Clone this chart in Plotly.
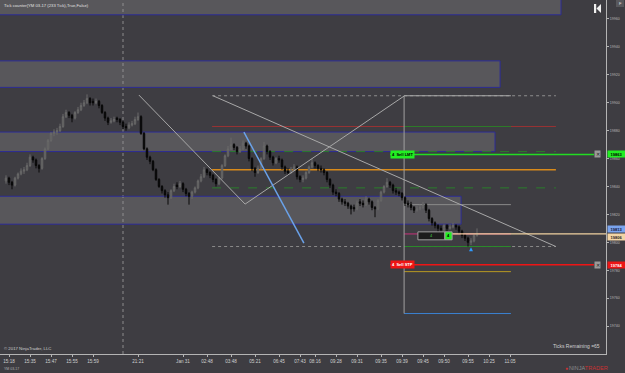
import plotly.graph_objects as go

# ---------------- data ----------------
bars = list(range(158))
opens = [19844,19846,19843,19841,19846,19849,19851,19852,19855,19861,
19859,19855,19853,19860,19867,19873,19878,19879,19880,19883,
19890,19893,19891,19889,19893,19895,19898,19900,19903,19901,
19900,19901,19898,19893,19889,19886,19887,19889,19888,19886,
19883,19882,19884,19885,19888,19890,19878,19867,19861,19858,
19852,19845,19840,19837,19834,19832,19837,19841,19840,19842,
19838,19835,19833,19836,19839,19844,19847,19852,19850,19848,
19845,19842,19846,19855,19862,19867,19870,19868,19865,19867,
19871,19869,19860,19853,19850,19853,19860,19869,19865,19861,
19857,19860,19859,19854,19851,19850,19852,19854,19847,19845,
19846,19850,19854,19857,19855,19853,19852,19850,19845,19841,
19836,19835,19831,19829,19828,19826,19825,19824,19829,19828,
19827,19831,19829,19825,19824,19830,19836,19840,19843,19841,
19837,19836,19835,19832,19828,19827,19825,19823,19824,19825,
19827,19823,19817,19814,19812,19810,19809,19812,19810,19811,
19812,19811,19808,19805,19803,19800,19801,19805]
highs = [19848,19847,19844,19847,19850,19853,19854,19857,19863,19862,
19860,19856,19861,19868,19874,19879,19881,19882,19885,19892,
19895,19894,19892,19894,19897,19900,19902,19906,19904,19903,
19903,19902,19899,19894,19890,19889,19890,19890,19889,19887,
19885,19886,19887,19890,19893,19891,19879,19868,19862,19859,
19853,19846,19841,19838,19836,19838,19842,19843,19844,19843,
19839,19836,19837,19840,19845,19849,19854,19853,19851,19849,
19846,19847,19856,19863,19869,19875,19871,19869,19869,19873,
19872,19870,19861,19854,19855,19861,19872,19870,19866,19862,
19861,19862,19860,19855,19853,19854,19856,19855,19848,19848,
19851,19855,19860,19858,19856,19855,19853,19851,19846,19842,
19838,19836,19832,19831,19829,19827,19827,19830,19831,19830,
19833,19832,19830,19826,19831,19837,19841,19846,19844,19842,
19839,19837,19836,19833,19830,19829,19826,19826,19827,19829,
19828,19824,19818,19815,19813,19812,19813,19813,19813,19814,
19813,19812,19809,19806,19804,19803,19806,19810]
lows = [19842,19841,19838,19840,19845,19848,19849,19851,19854,19857,
19853,19850,19852,19859,19866,19872,19876,19877,19879,19882,
19889,19889,19886,19888,19892,19894,19897,19899,19898,19898,
19899,19896,19892,19887,19884,19885,19886,19886,19884,19881,
19880,19881,19883,19884,19887,19877,19866,19859,19856,19851,
19844,19839,19835,19832,19827,19831,19836,19838,19839,19836,
19833,19827,19831,19835,19838,19843,19846,19848,19846,19843,
19840,19841,19845,19854,19861,19866,19866,19863,19864,19866,
19867,19858,19851,19847,19849,19852,19859,19863,19859,19855,
19856,19857,19852,19849,19848,19849,19851,19845,19843,19843,
19845,19849,19853,19853,19851,19850,19848,19843,19839,19834,
19833,19829,19827,19826,19824,19820,19822,19823,19826,19825,
19826,19827,19823,19818,19823,19829,19835,19839,19839,19835,
19834,19833,19830,19826,19825,19823,19821,19822,19823,19824,
19821,19815,19812,19810,19807,19807,19808,19808,19809,19810,
19809,19806,19803,19801,19797,19798,19800,19804]
closes = [19846,19843,19841,19846,19849,19851,19852,19855,19861,19859,
19855,19853,19860,19867,19873,19878,19879,19880,19883,19890,
19893,19891,19889,19893,19895,19898,19900,19903,19900,19900,
19901,19898,19893,19889,19886,19887,19888,19888,19886,19883,
19882,19884,19885,19888,19890,19878,19867,19861,19858,19852,
19845,19840,19837,19834,19832,19837,19840,19840,19842,19838,
19835,19833,19836,19839,19844,19847,19852,19850,19848,19845,
19842,19846,19855,19862,19867,19870,19868,19865,19867,19871,
19869,19860,19853,19850,19853,19860,19869,19865,19861,19857,
19860,19859,19854,19851,19850,19852,19854,19847,19845,19846,
19850,19854,19857,19855,19853,19852,19850,19845,19841,19836,
19835,19831,19829,19828,19826,19824,19824,19828,19828,19827,
19831,19829,19825,19824,19830,19836,19840,19843,19841,19837,
19836,19835,19832,19828,19827,19825,19823,19824,19825,19827,
19823,19817,19814,19812,19810,19809,19812,19810,19811,19812,
19811,19808,19805,19803,19800,19801,19805,19806]

tick_bars = [1, 8, 15, 22, 29, 44, 59, 67, 75, 83, 91, 98, 103, 110, 117, 125, 132, 139, 146, 154, 161, 168]
tick_text = ["15:18", "15:35", "15:47", "15:55", "15:59", "21:21", "Jan 31", "02:48", "03:48", "05:21",
             "06:45", "07:43", "08:16", "09:28", "09:31", "09:35", "09:39", "09:45", "09:50", "09:55",
             "10:25", "11:05"]
price_ticks = [19740, 19760, 19780, 19800, 19820, 19840, 19860, 19880, 19900, 19920, 19940, 19960]

# supply / demand zones (right end bar, low price, high price)
zone_right = [185, 164.7, 163, 151.7]
zone_low = [19963, 19911, 19865, 19813]
zone_high = [19995, 19930, 19879, 19833]

session_break_bar = 39

# drawing A (horizontal levels between two bars)
a_bars = [68.7, 183.3]
a_levels = [19905, 19883, 19865, 19852, 19839, 19797]
# drawing B
b_bars = [132.7, 168.3]
b_levels = [19905, 19883, 19827, 19806, 19797, 19779, 19749]
# trend lines
v_bars = [44.3, 79.7, 132.7]
v_prices = [19905.5, 19827.4, 19904.8]
diag_bars = [69, 183.3]
diag_prices = [19905, 19797]
blue_bars = [79.3, 99.3]
blue_prices = [19879, 19799.4]

# orders / position
sell_lmt = 19863
sell_stp = 19784
last_price = 19806
zone_price = 19813
qty = 4
order_bars = [128, 196]
pos_bars = [137.3, 146.3, 148.7]
exec_bar = [155]
exec_price = [19796.5]

# ---------------- styles ----------------
BG = "#3e3d42"
FONT = "Liberation Sans"
ZONE_FILL = "rgba(150,150,150,0.30)"
ZONE_LINE = "#2c2c96"
a_styles = [("#8e8e8e", "dot"), ("#9a3333", "solid"), ("#2a7d2a", "dash"),
            ("#d88a1a", "solid"), ("#2a7d2a", "dash"), ("#8a8a8a", "dot")]
b_styles = ["#a8a8a8", "#2a7d2a", "#8a8a8a", "#c8307a", "#2a8a2a", "#b89a22", "#3a80d0"]

fig = go.Figure()

fig.add_trace(go.Candlestick(
    x=bars, open=opens, high=highs, low=lows, close=closes,
    increasing=dict(line=dict(color="#6a6a6a", width=1), fillcolor="#4a4a4a"),
    decreasing=dict(line=dict(color="#080808", width=1), fillcolor="#080808"),
    whiskerwidth=0, showlegend=False, hoverinfo="skip"))

fig.add_trace(go.Scatter(
    x=exec_bar, y=exec_price, mode="markers",
    marker=dict(symbol="arrow-up", size=4, color="#2f9bff", line=dict(width=0)),
    showlegend=False, hoverinfo="skip"))

shapes = []
for r, lo, hi in zip(zone_right, zone_low, zone_high):
    shapes.append(dict(type="rect", xref="x", yref="y", x0=-4, x1=r, y0=lo, y1=hi,
                       fillcolor=ZONE_FILL, line=dict(color=ZONE_LINE, width=1), layer="below"))
shapes.append(dict(type="line", xref="x", yref="paper", x0=session_break_bar, x1=session_break_bar,
                   y0=0, y1=1, line=dict(color="#8c8c8c", width=1, dash="dot"), layer="below"))
for lvl, (c, d) in zip(a_levels, a_styles):
    shapes.append(dict(type="line", xref="x", yref="y", x0=a_bars[0], x1=a_bars[1], y0=lvl, y1=lvl,
                       line=dict(color=c, width=1.4 if c == "#d88a1a" else 1, dash=d), layer="below"))
for lvl, c in zip(b_levels, b_styles):
    shapes.append(dict(type="line", xref="x", yref="y", x0=b_bars[0], x1=b_bars[1], y0=lvl, y1=lvl,
                       line=dict(color=c, width=1), layer="below"))
shapes.append(dict(type="line", xref="x", yref="y", x0=b_bars[0], x1=b_bars[0],
                   y0=b_levels[0], y1=b_levels[-1], line=dict(color="#a0a0a0", width=1), layer="below"))
for i in range(2):
    shapes.append(dict(type="line", xref="x", yref="y", x0=v_bars[i], x1=v_bars[i + 1],
                       y0=v_prices[i], y1=v_prices[i + 1], line=dict(color="#a8a8a8", width=1)))
shapes.append(dict(type="line", xref="x", yref="y", x0=diag_bars[0], x1=diag_bars[1],
                   y0=diag_prices[0], y1=diag_prices[1], line=dict(color="#a8a8a8", width=1)))
shapes.append(dict(type="line", xref="x", yref="y", x0=blue_bars[0], x1=blue_bars[1],
                   y0=blue_prices[0], y1=blue_prices[1], line=dict(color="#6aa2ea", width=1.5)))
shapes.append(dict(type="line", xref="x", yref="y", x0=order_bars[0], x1=order_bars[1],
                   y0=sell_lmt, y1=sell_lmt, line=dict(color="#22dd22", width=1.5)))
shapes.append(dict(type="line", xref="x", yref="y", x0=order_bars[0], x1=order_bars[1],
                   y0=sell_stp, y1=sell_stp, line=dict(color="#ee1515", width=1.5)))
shapes.append(dict(type="line", xref="x", yref="y", x0=pos_bars[2], x1=210,
                   y0=last_price, y1=last_price, line=dict(color="#f0d2a0", width=1.2)))
shapes.append(dict(type="rect", xref="x", yref="y", x0=pos_bars[0], x1=pos_bars[1],
                   y0=last_price - 4.2, y1=last_price + 1.5, fillcolor="#1c1c1c",
                   line=dict(color="#a0a0a0", width=1)))
shapes.append(dict(type="rect", xref="x", yref="y", x0=pos_bars[1], x1=pos_bars[2],
                   y0=last_price - 4.2, y1=last_price + 1.5, fillcolor="#22ee22",
                   line=dict(color="#a0a0a0", width=1)))
W, H = 606.0, 354.0
def px(x):
    return x / W
def py(y):
    return 1 - y / H
shapes.append(dict(type="rect", xref="paper", yref="paper", x0=px(594), x1=px(596.2), y0=py(4), y1=py(13),
                   fillcolor="#f0f0f0", line=dict(width=0)))
shapes.append(dict(type="path", xref="paper", yref="paper",
                   path=f"M {px(601)} {py(4)} L {px(596.5)} {py(8.5)} L {px(601)} {py(13)} Z",
                   fillcolor="#f0f0f0", line=dict(width=0)))
shapes.append(dict(type="rect", xref="paper", yref="paper", x0=px(616), x1=px(624), y0=py(0), y1=py(7),
                   fillcolor="#58585c", line=dict(width=0)))

ann = []
def label(text, x, y, size, color, xanchor="left", xref="paper", yref="paper", **kw):
    ann.append(dict(text=text, x=x, y=y, xref=xref, yref=yref, showarrow=False, xanchor=xanchor,
                    yanchor="middle", font=dict(family=FONT, size=size, color=color), **kw))

label("Tick counter(YM 03-17 (233 Tick),True,False)", px(2), py(5.5), 4.2, "#e0e0e0")
label("© 2017 NinjaTrader, LLC", px(2), py(348), 4.3, "#d0d0d0")
label("Ticks Remaining =65", px(602), py(346), 5, "#d0d0d0", xanchor="right")
label("YM 03-17", px(2), py(369), 3.5, "#b0b0b0")
label("<span style='color:#8a8a8a'>NINJA</span><span style='color:#c83232'>TRADER</span>",
      px(567), py(368), 5.6, "#8a8a8a")
label("●", px(563), py(368), 5, "#c83232")
label("F", px(620), py(3.5), 4, "#e0e0e0", xanchor="center")

label("<b>4  Sell LMT</b>", order_bars[0], sell_lmt, 4, "#000000", xref="x", yref="y",
      bgcolor="#22ee22", borderpad=1)
label("<b>4  Sell STP</b>", order_bars[0], sell_stp, 4, "#ffffff", xref="x", yref="y",
      bgcolor="#ee1515", borderpad=1)
for p in (sell_lmt, sell_stp):
    label("✕", order_bars[1] + 1, p, 4.5, "#222222", xanchor="center", xref="x", yref="y",
          bgcolor="#9a9a9a", borderpad=0.5)
label(str(qty), (pos_bars[0] + pos_bars[1]) / 2, last_price - 1.3, 4, "#40d040", xanchor="center",
      xref="x", yref="y")
label(f"<b>{qty}</b>", (pos_bars[1] + pos_bars[2]) / 2, last_price - 1.3, 4, "#000000", xanchor="center",
      xref="x", yref="y")
for p, bg, fg, sh in [(sell_lmt, "#22ee22", "#000000", 0), (zone_price, "#7aa4ee", "#101030", -4.5),
                      (last_price, "#f2d4a4", "#202020", -3), (sell_stp, "#ee1515", "#ffffff", 0)]:
    ann.append(dict(text=f"<b>{p}</b>", x=1, y=p, xref="paper", yref="y", showarrow=False,
                    xanchor="left", yanchor="middle", xshift=0.5, yshift=sh, width=17, height=6,
                    bgcolor=bg, borderpad=0, font=dict(family=FONT, size=4, color=fg)))

fig.update_layout(
    width=625, height=373, autosize=False,
    margin=dict(l=0, r=19, t=0, b=19, pad=0),
    paper_bgcolor=BG, plot_bgcolor=BG,
    shapes=shapes, annotations=ann,
    showlegend=False,
    font=dict(family=FONT),
    xaxis=dict(range=[-2, 200], tickmode="array", tickvals=tick_bars, ticktext=tick_text,
               showgrid=False, zeroline=False, showline=True, linecolor="#b4b4b4", linewidth=1,
               ticks="outside", ticklen=2, tickcolor="#b4b4b4",
               tickfont=dict(family=FONT, size=4.6, color="#d0d0d0"),
               rangeslider=dict(visible=False), fixedrange=True),
    yaxis=dict(range=[19720, 19973.6], side="right", tickmode="array", tickvals=price_ticks,
               ticktext=[str(t) for t in price_ticks],
               showgrid=False, zeroline=False, showline=True, linecolor="#b4b4b4", linewidth=1,
               ticks="outside", ticklen=2, tickcolor="#b4b4b4",
               tickfont=dict(family=FONT, size=3.6, color="#b8b8b8"), fixedrange=True),
)

fig.write_html("out.html")
